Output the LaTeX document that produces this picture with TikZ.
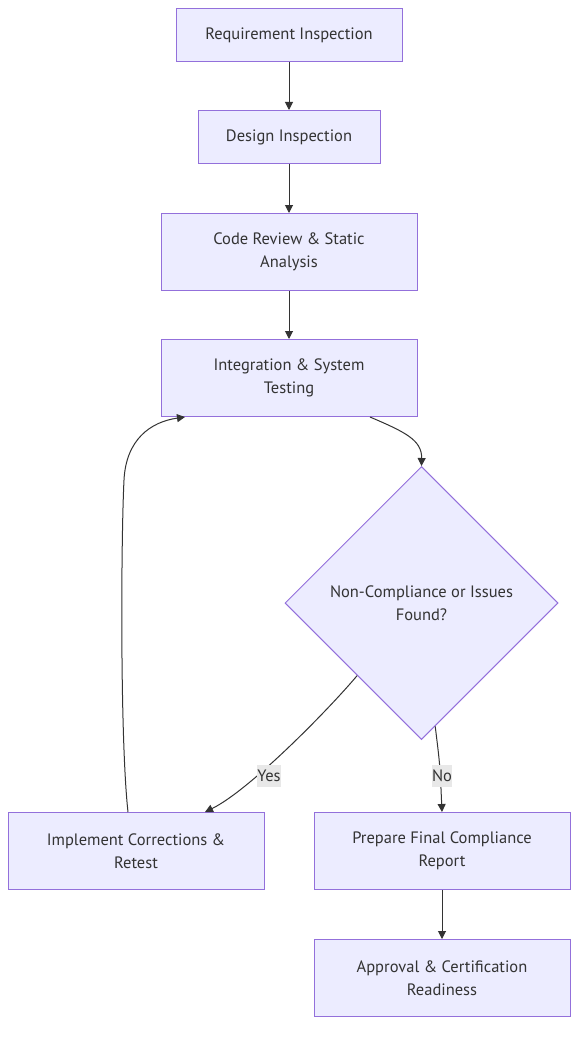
\documentclass[tikz,border=0pt]{standalone}
\usepackage{fontspec}
\setmainfont{PT Sans}
\usetikzlibrary{shapes.geometric,arrows.meta,calc}
\definecolor{boxfill}{HTML}{ECECFF}
\definecolor{boxline}{HTML}{9370DB}
\definecolor{ink}{HTML}{333333}
\definecolor{lblfill}{HTML}{E8E8E8}

\begin{document}
\begin{tikzpicture}[%
      x=1pt, y=-1pt,
      box/.style={draw=boxline, fill=boxfill, line width=1pt, text=ink,
        align=center, inner sep=0pt, font=\fontsize{16.5}{23}\selectfont},
      decide/.style={box, diamond, minimum width=273pt, minimum height=273pt},
      flow/.style={draw=ink, line width=1pt, -{Triangle[length=8pt,width=8pt]}},
      elabel/.style={fill=lblfill, text=ink, inner xsep=0pt, inner ysep=0pt,
        minimum height=22pt, font=\fontsize{16.5}{23}\selectfont},
      ]
      \useasboundingbox (0,0) rectangle (586,1038);

      \node [box, minimum width=226pt, minimum height=53pt] (req) at (289,35) {Requirement Inspection};
      \node [box, minimum width=182pt, minimum height=53pt] (des) at (289,137) {Design Inspection};
      \node [box, minimum width=256pt, minimum height=77pt] (code) at (289,252) {Code Review \& Static\\Analysis};
      \node [box, minimum width=256pt, minimum height=77pt] (integ) at (289,378) {Integration \& System\\Testing};
      \node [decide] (dia) at (421.5,603) {Non-Compliance or Issues\\Found?};
      \node [box, minimum width=256pt, minimum height=77pt] (impl) at (136,851) {Implement Corrections \&\\Retest};
      \node [box, minimum width=256pt, minimum height=77pt] (prep) at (442,851) {Prepare Final Compliance\\Report};
      \node [box, minimum width=256pt, minimum height=77pt] (appr) at (442,978) {Approval \& Certification\\Readiness};

      \draw [flow] (req) -- (des);
      \draw [flow] (des) -- (code);
      \draw [flow] (code) -- (integ);
      \draw [flow] ([xshift=81pt]integ.south) .. controls (405,432) and (422,440) .. (dia.north);
      \draw [flow] ($(dia.west)!0.53!(dia.south)$) .. controls (330,708) and (250,790) .. ([xshift=69pt]impl.north);
      \draw [flow] ($(dia.south)!0.1!(dia.east)$) .. controls (440,765) .. (prep.north);
      \draw [flow] (prep) -- (appr);
      % loop back for retest
      \draw [flow] ([xshift=-8pt]impl.north) .. controls (120,740) and (121,540) .. (124,480)
                   .. controls (126,440) and (150,422) .. ([xshift=-104pt]integ.south);

      \node [elabel] (yes) at (269,775.5) {Yes};
      \node [elabel] (no) at (442,775.5) {No};
\end{tikzpicture}
\end{document}
